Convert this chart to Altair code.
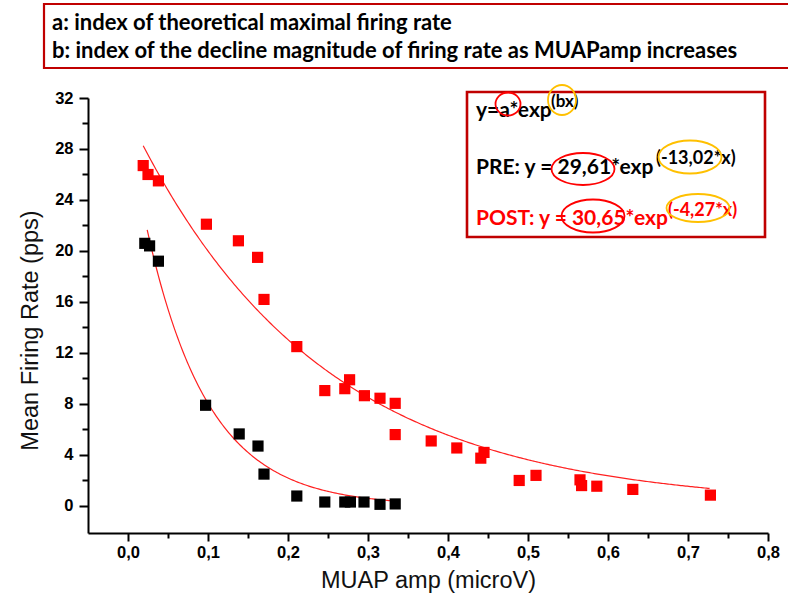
import altair as alt
import pandas as pd

# ---------------- data ----------------
pre_x = [0.021, 0.027, 0.038, 0.097, 0.139, 0.1625, 0.170, 0.211, 0.246, 0.271, 0.278, 0.295, 0.315, 0.334]
pre_y = [20.6, 20.4, 19.2, 7.9, 5.65, 4.7, 2.5, 0.78, 0.31, 0.31, 0.31, 0.31, 0.13, 0.16]

post_x = [0.019, 0.025, 0.038, 0.098, 0.138, 0.162, 0.170, 0.211, 0.246, 0.271, 0.277, 0.2955,
          0.315, 0.334, 0.334, 0.379, 0.411, 0.441, 0.445, 0.489, 0.510, 0.565, 0.567, 0.586,
          0.631, 0.728]
post_y = [26.7, 26.0, 25.5, 22.1, 20.8, 19.5, 16.2, 12.5, 9.05, 9.2, 9.9, 8.65,
          8.45, 8.05, 5.6, 5.1, 4.55, 3.75, 4.2, 2.0, 2.4, 2.05, 1.6, 1.55,
          1.3, 0.85]

# exponential fits printed on the chart: y = a * exp(b * x)
fit_names = ["PRE", "POST"]
fit_a = [29.61, 30.65]
fit_b = [-13.02, -4.27]
fit_xmin = [0.024, 0.019]
fit_xmax = [0.334, 0.727]

x_ticks = [round(0.05 * k, 2) for k in range(0, 17)]
y_ticks = list(range(0, 33, 2))

note_lines = ["a: index of theoretical maximal firing rate",
              "b: index of the decline magnitude of firing rate as MUAPamp increases"]
eq_main = ["y=a*exp", "PRE: y = 29,61*exp", "POST: y = 30,65*exp"]
eq_sup = ["(bx)", "(-13,02*x)", "(-4,27*x)"]

# ---------------- chart ----------------
W, H = 680, 435
xscale = alt.Scale(domain=[-0.05, 0.8], nice=False, zero=False)
yscale = alt.Scale(domain=[-2.12, 32], nice=False, zero=False)

LBL_FONT = "Liberation Sans"
NOTE_FONT = "Lato"

xaxis = alt.Axis(
    values=x_ticks, title="MUAP amp (microV)",
    labelExpr="round(datum.value*20) % 2 == 0 ? replace(format(datum.value, '.1f'), '.', ',') : ''",
    tickSize={"condition": {"test": "round(datum.value*20) % 2 == 0", "value": 8}, "value": 5},
    labelFont=LBL_FONT, labelFontSize=16.5, labelFontWeight="bold", labelColor="#000",
    labelPadding=3, labelFlush=False, labelOverlap=False,
    titleFont=LBL_FONT, titleFontSize=23.5, titleFontWeight="normal", titleColor="#111",
    titlePadding=8, domainColor="#000", domainWidth=2, tickColor="#000", tickWidth=2,
    grid=False,
)
yaxis = alt.Axis(
    values=y_ticks, title="Mean Firing Rate (pps)",
    labelExpr="datum.value % 4 == 0 ? format(datum.value, 'd') : ''",
    tickSize={"condition": {"test": "datum.value % 4 == 0", "value": 9}, "value": 6},
    labelFont=LBL_FONT, labelFontSize=16.5, labelFontWeight="bold", labelColor="#000",
    labelPadding=6, labelFlush=False, labelOverlap=False,
    titleFont=LBL_FONT, titleFontSize=23.5, titleFontWeight="normal", titleColor="#111",
    titlePadding=12, titleY=232, domainColor="#000", domainWidth=2, tickColor="#000", tickWidth=2,
    grid=False,
)

pts = pd.concat([
    pd.DataFrame({"x": pre_x, "y": pre_y, "group": "PRE"}),
    pd.DataFrame({"x": post_x, "y": post_y, "group": "POST"}),
])

points = alt.Chart(pts).mark_point(shape="square", filled=True, size=125, opacity=1).encode(
    x=alt.X("x:Q", scale=xscale, axis=xaxis),
    y=alt.Y("y:Q", scale=yscale, axis=yaxis),
    color=alt.Color("group:N", scale=alt.Scale(domain=["PRE", "POST"], range=["#000000", "#ff0000"]), legend=None),
)

curves = []
for name, a, b, x0, x1 in zip(fit_names, fit_a, fit_b, fit_xmin, fit_xmax):
    c = alt.Chart(alt.sequence(x0, x1 + 0.0005, 0.002, as_="x")).transform_calculate(
        y=f"{a} * exp({b} * datum.x)"
    ).mark_line(color="#ff2020", strokeWidth=1.2).encode(
        x=alt.X("x:Q", scale=xscale, axis=xaxis),
        y=alt.Y("y:Q", scale=yscale, axis=yaxis),
    )
    curves.append(c)

one = alt.Data(values=[{}])

def box(x1, y1, x2, y2, color="#c00000", sw=2.2):
    return alt.Chart(one).mark_rect(fill="transparent", stroke=color, strokeWidth=sw).encode(
        x=alt.value(x1), x2=alt.value(x2), y=alt.value(y1), y2=alt.value(y2))

def label(txt, x, y, size, color="#000", weight="bold"):
    return alt.Chart(one).mark_text(text=txt, align="left", baseline="alphabetic", font=NOTE_FONT,
                                    fontSize=size, fontWeight=weight, color=color).encode(
        x=alt.value(x), y=alt.value(y))

def ellipse(cx, cy, w, h, color, sw=1.8):
    s = max(w, h)
    rx, ry = w / s, h / s
    path = f"M {-rx} 0 A {rx} {ry} 0 1 0 {rx} 0 A {rx} {ry} 0 1 0 {-rx} 0 Z"
    return alt.Chart(one).mark_point(shape=path, size=s * s, filled=False, stroke=color,
                                     strokeWidth=sw, opacity=1).encode(
        x=alt.value(cx), y=alt.value(cy))

ox, oy = 88, 98  # plot origin in page pixels; annotations use page coords shifted
ann = [
    box(44 - ox, 4 - oy, 800 - ox, 68 - oy),
    label(note_lines[0], 52 - ox, 30 - oy, 22),
    label(note_lines[1], 52 - ox, 58 - oy, 22),
    box(467 - ox, 92 - oy, 765 - ox, 237 - oy, sw=2.6),
    label(eq_main[0], 476 - ox, 117 - oy, 21),
    label(eq_sup[0], 551 - ox, 107 - oy, 17),
    label(eq_main[1], 476 - ox, 174 - oy, 21),
    label(eq_sup[1], 656 - ox, 164 - oy, 18),
    label(eq_main[2], 476 - ox, 225 - oy, 21, color="#ff0000"),
    label(eq_sup[2], 668 - ox, 216 - oy, 18, color="#ff0000"),
    ellipse(508 - ox, 104 - oy, 25, 23, "#ff0000"),
    ellipse(562 - ox, 100 - oy, 28, 30, "#ffc000"),
    ellipse(583 - ox, 169 - oy, 63, 32, "#ff0000"),
    ellipse(690 - ox, 157 - oy, 63, 33, "#ffc000"),
    ellipse(593 - ox, 216 - oy, 63, 33, "#ff0000"),
    ellipse(698 - ox, 208 - oy, 63, 28, "#ffc000"),
]

chart = alt.layer(*curves, points, *ann).properties(
    width=W, height=H,
    padding={"left": 88, "top": 98, "right": 20, "bottom": 68},
    autosize=alt.AutoSizeParams(type="none"),
    background="white",
).configure_view(strokeWidth=0)

chart.save("out.html", embed_options={"renderer": "svg", "actions": False})
